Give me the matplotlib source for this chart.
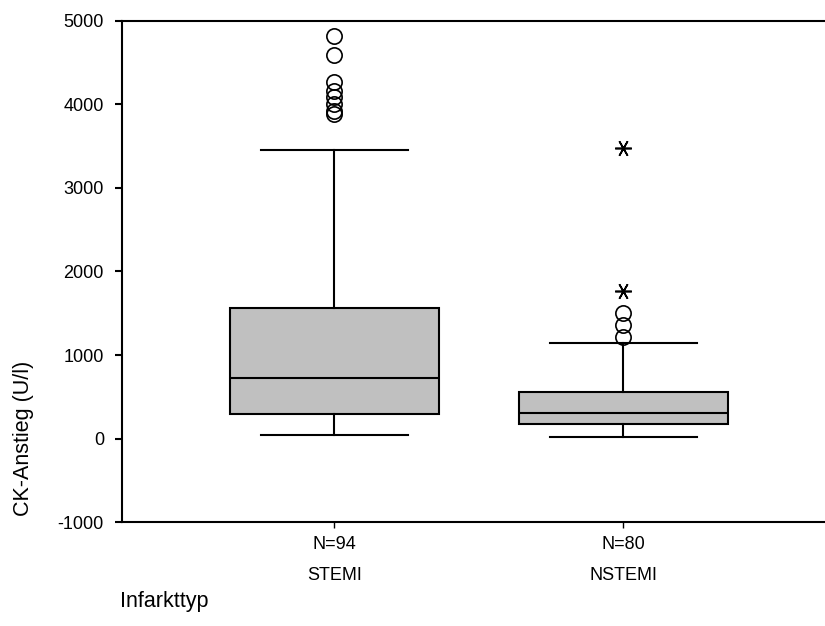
import matplotlib
matplotlib.use('Agg')
import matplotlib.pyplot as plt
import numpy as np

plt.rcParams['font.family'] = ['Liberation Sans', 'DejaVu Sans']
plt.rcParams['axes.unicode_minus'] = False

groups = ['STEMI', 'NSTEMI']
n_cases = [94, 80]

# box statistics of CK-Anstieg (U/l) per group
whis_low = [40, 18]
q1 = [293, 174]
median = [725, 305]
q3 = [1563, 557]
whis_high = [3455, 1144]

# outliers (circles) and extreme values (stars)
outliers = [[3886, 3922, 4006, 4090, 4162, 4269, 4593, 4820],
            [1216, 1359, 1503]]
extremes = [[],
            [1766, 3479]]

stats = []
for i in range(len(groups)):
    stats.append({'whislo': whis_low[i], 'q1': q1[i], 'med': median[i],
                  'q3': q3[i], 'whishi': whis_high[i],
                  'fliers': outliers[i], 'label': groups[i]})

fig = plt.figure(figsize=(8.25, 6.26), dpi=100)
ax = fig.add_axes([0.1479, 0.1661, 0.8521, 0.8004])

x_pos = np.arange(1, len(groups) + 1)
lw = 1.5
ax.bxp(stats, positions=x_pos, widths=0.723, capwidths=0.509,
       patch_artist=True, manage_ticks=False,
       boxprops=dict(facecolor='#c0c0c0', edgecolor='black', linewidth=lw),
       medianprops=dict(color='black', linewidth=lw),
       whiskerprops=dict(color='black', linewidth=lw),
       capprops=dict(color='black', linewidth=lw),
       flierprops=dict(marker='o', markersize=11, markerfacecolor='none',
                       markeredgecolor='black', markeredgewidth=1.2))

for i, vals in enumerate(extremes):
    if len(vals):
        ax.plot([x_pos[i]] * len(vals), vals, linestyle='None',
                marker=(6, 2, 90), markersize=12, markeredgewidth=1.2,
                color='black')

ax.set_ylim(-1000, 5000)
ax.set_xlim(0.2664, 2.697)
ax.set_yticks(np.arange(-1000, 5001, 1000))
ax.set_xticks(x_pos)
ax.set_xticklabels(['N=%d\n%s' % (n, g) for n, g in zip(n_cases, groups)],
                   linespacing=2.1)

for s in ['left', 'bottom', 'top']:
    ax.spines[s].set_linewidth(lw)
ax.spines['right'].set_visible(False)
ax.tick_params(axis='y', direction='out', length=5, width=lw, pad=8,
               labelsize=13)
ax.tick_params(axis='x', direction='out', length=4, width=1, pad=6,
               labelsize=13)

fig.text(24 / 825, 1 - 438 / 626, 'CK-Anstieg (U/l)', rotation=90,
         ha='center', va='center', fontsize=15.5)
fig.text(120 / 825, 1 - 602 / 626, 'Infarkttyp', ha='left', va='center',
         fontsize=15.5)

plt.savefig('out.png', dpi=100)
